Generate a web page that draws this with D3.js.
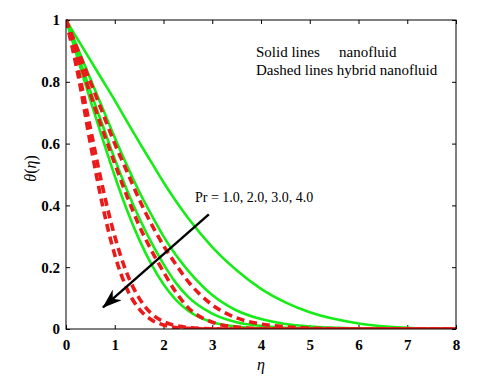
<!DOCTYPE html>
<html>
<head>
<meta charset="utf-8">
<script src="https://cdn.jsdelivr.net/npm/d3@7"></script>
<style>
  html, body { margin: 0; padding: 0; background: #fff; }
  svg { display: block; }
</style>
</head>
<body>
<svg id="chart" width="502" height="379"></svg>
<script>
// eta grid shared by every curve
const eta = [0, 0.25, 0.5, 0.75, 1, 1.25, 1.5, 1.75, 2, 2.25, 2.5, 3, 3.5, 4, 4.5, 5, 6, 7, 8];

// solid lines: nanofluid, Pr = 1, 2, 3, 4
const nanoPr1 = [1, 0.935, 0.87, 0.805, 0.74, 0.672, 0.605, 0.54, 0.475, 0.415, 0.36, 0.265, 0.19, 0.13, 0.086, 0.054, 0.018, 0.004, 0];
const nanoPr2 = [1, 0.905, 0.81, 0.715, 0.62, 0.53, 0.445, 0.37, 0.3, 0.24, 0.19, 0.11, 0.06, 0.032, 0.016, 0.008, 0.002, 0, 0];
const nanoPr3 = [1, 0.885, 0.77, 0.66, 0.55, 0.45, 0.36, 0.28, 0.21, 0.15, 0.105, 0.05, 0.022, 0.01, 0.004, 0.001, 0, 0, 0];
const nanoPr4 = [1, 0.87, 0.74, 0.615, 0.495, 0.385, 0.29, 0.21, 0.145, 0.095, 0.06, 0.022, 0.008, 0.002, 0.001, 0, 0, 0, 0];

// dashed lines: hybrid nanofluid, Pr = 1, 2, 3, 4
const hybridPr1 = [1, 0.9, 0.8, 0.7, 0.6, 0.51, 0.42, 0.34, 0.27, 0.21, 0.155, 0.078, 0.036, 0.016, 0.007, 0.003, 0, 0, 0];
const hybridPr2 = [1, 0.88, 0.76, 0.645, 0.535, 0.43, 0.335, 0.255, 0.185, 0.12, 0.07, 0.022, 0.006, 0.001, 0, 0, 0, 0, 0];
const hybridPr3 = [1, 0.84, 0.65, 0.46, 0.3, 0.18, 0.1, 0.05, 0.024, 0.011, 0.005, 0.001, 0, 0, 0, 0, 0, 0, 0];
const hybridPr4 = [1, 0.82, 0.6, 0.4, 0.24, 0.13, 0.065, 0.03, 0.013, 0.005, 0.002, 0, 0, 0, 0, 0, 0, 0, 0];

const xTicks = [0, 1, 2, 3, 4, 5, 6, 7, 8];
const yTicks = [0, 0.2, 0.4, 0.6, 0.8, 1];

// arrow annotation, in data units (tail -> head)
const arrowFrom = [2.93, 0.371];
const arrowTo = [0.76, 0.07];

const width = 502, height = 379;
const margin = { top: 20, right: 46, bottom: 50, left: 66 };
const innerWidth = width - margin.left - margin.right;
const innerHeight = height - margin.top - margin.bottom;

const svg = d3.select("#chart");
const serif = "Liberation Serif, Times New Roman, serif";

const defs = svg.append("defs");
defs.append("clipPath").attr("id", "plot-clip")
  .append("rect").attr("x", 0).attr("y", -2).attr("width", innerWidth).attr("height", innerHeight + 2);

defs.append("marker")
  .attr("id", "arrow-head")
  .attr("viewBox", "0 0 20 14")
  .attr("refX", 19).attr("refY", 7)
  .attr("markerWidth", 20).attr("markerHeight", 14)
  .attr("markerUnits", "userSpaceOnUse")
  .attr("orient", "auto")
  .append("path")
  .attr("d", "M0,0 L20,7 L0,14 L6,7 Z")
  .attr("fill", "#000");

const g = svg.append("g").attr("transform", `translate(${margin.left},${margin.top})`);

const x = d3.scaleLinear().domain([0, 8]).range([0, innerWidth]);
const y = d3.scaleLinear().domain([0, 1]).range([innerHeight, 0]);

// axes: ticks point inward, box drawn separately
const xAxis = g.append("g")
  .attr("transform", `translate(0,${innerHeight})`)
  .call(d3.axisBottom(x).tickValues(xTicks).tickFormat(d3.format("d")).tickSizeInner(-4).tickSizeOuter(0).tickPadding(10));

const yAxis = g.append("g")
  .call(d3.axisLeft(y).tickValues(yTicks).tickFormat(d => d === 0 || d === 1 ? d3.format("d")(d) : d3.format(".1f")(d)).tickSizeInner(-4).tickSizeOuter(0).tickPadding(6));

g.append("g")
  .call(d3.axisTop(x).tickValues(xTicks).tickFormat("").tickSizeInner(-4).tickSizeOuter(0));

g.append("g")
  .attr("transform", `translate(${innerWidth},0)`)
  .call(d3.axisRight(y).tickValues(yTicks).tickFormat("").tickSizeInner(-4).tickSizeOuter(0));

g.selectAll(".domain").remove();
g.selectAll(".tick line").attr("stroke", "#000");
[xAxis, yAxis].forEach(a => {
  a.attr("font-family", serif).attr("font-size", 15).attr("font-weight", "bold");
  a.selectAll("text").attr("fill", "#000");
});

const line = d3.line()
  .x((d, i) => x(eta[i]))
  .y(d => y(d))
  .curve(d3.curveMonotoneX);

const plot = g.append("g").attr("clip-path", "url(#plot-clip)");

[nanoPr1, nanoPr2, nanoPr3, nanoPr4].forEach(s => {
  plot.append("path")
    .datum(s)
    .attr("fill", "none")
    .attr("stroke", "#16ec16")
    .attr("stroke-width", 2.6)
    .attr("d", line);
});

[hybridPr1, hybridPr2, hybridPr3, hybridPr4].forEach(s => {
  plot.append("path")
    .datum(s)
    .attr("fill", "none")
    .attr("stroke", "#ea1a1a")
    .attr("stroke-width", 3.6)
    .attr("stroke-dasharray", "8,5")
    .attr("d", line);
});

// frame
g.append("rect")
  .attr("width", innerWidth)
  .attr("height", innerHeight)
  .attr("fill", "none")
  .attr("stroke", "#000")
  .attr("stroke-width", 1);

// arrow
g.append("line")
  .attr("x1", x(arrowFrom[0])).attr("y1", y(arrowFrom[1]))
  .attr("x2", x(arrowTo[0])).attr("y2", y(arrowTo[1]))
  .attr("stroke", "#000")
  .attr("stroke-width", 2.4)
  .attr("marker-end", "url(#arrow-head)");

g.append("text")
  .attr("x", 195 - margin.left)
  .attr("y", 202 - margin.top)
  .attr("font-family", serif)
  .attr("font-size", 14)
  .attr("fill", "#000")
  .text("Pr = 1.0, 2.0, 3.0, 4.0");

// legend text
const legend = g.append("g").attr("font-family", serif).attr("font-size", 15).attr("fill", "#000");
legend.append("text").attr("x", 256 - margin.left).attr("y", 57 - margin.top).text("Solid lines");
legend.append("text").attr("x", 339 - margin.left).attr("y", 57 - margin.top).text("nanofluid");
legend.append("text").attr("x", 256 - margin.left).attr("y", 75 - margin.top).text("Dashed lines hybrid nanofluid");

// axis titles
svg.append("text")
  .attr("x", margin.left + innerWidth / 2)
  .attr("y", 370)
  .attr("text-anchor", "middle")
  .attr("font-family", serif).attr("font-size", 16).attr("font-style", "italic")
  .text("η");

svg.append("text")
  .attr("transform", `translate(36,${margin.top + innerHeight / 2 - 6}) rotate(-90)`)
  .attr("text-anchor", "middle")
  .attr("font-family", serif).attr("font-size", 16)
  .html('<tspan font-style="italic">θ</tspan>(<tspan font-style="italic">η</tspan>)');
</script>
</body>
</html>
